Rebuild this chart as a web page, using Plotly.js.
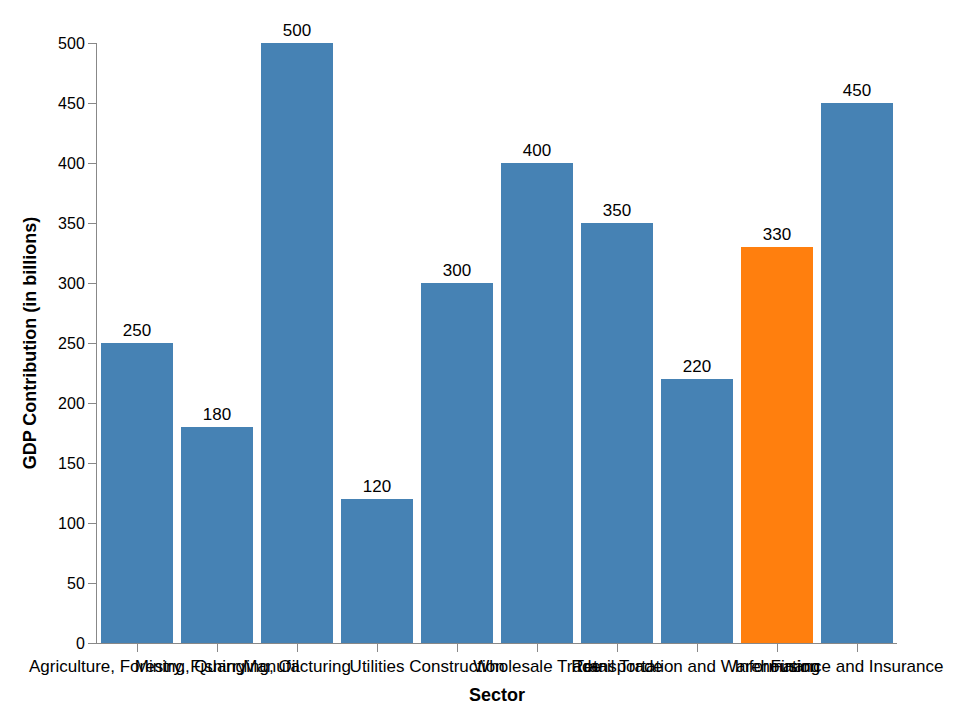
<!DOCTYPE html>
<html>
<head>
<meta charset="utf-8">
<script src="https://cdn.plot.ly/plotly-3.0.1.min.js"></script>
<style>body{margin:0;background:#fff}#chart{width:964px;height:716px}</style>
</head>
<body>
<div id="chart"></div>
<script>
const sectors = ["Agriculture, Forestry, Fishing", "Mining, Quarrying, Oil", "Manufacturing", "Utilities",
    "Construction", "Wholesale Trade", "Retail Trade", "Transportation and Warehousing",
    "Information", "Finance and Insurance"];
const gdp = [250, 180, 500, 120, 300, 400, 350, 220, 330, 450];
const highlighted = "Information";

const data = [{
    x: sectors,
    y: gdp,
    type: "bar",
    marker: { color: sectors.map(s => s === highlighted ? "#ff7f0e" : "#4682b4") },
    text: gdp.map(String),
    textposition: "outside",
    cliponaxis: false,
    textfont: { size: 17, color: "#000" },
    width: 0.9,
    hovertemplate: "%{x}: %{y}<extra></extra>"
}];

const layout = {
    width: 964, height: 716,
    margin: { l: 97, r: 67, t: 43, b: 73 },
    font: { family: "Liberation Sans, Arial, sans-serif", color: "#000" },
    showlegend: false,
    bargap: 0.1,
    plot_bgcolor: "#fff", paper_bgcolor: "#fff",
    xaxis: {
        title: { text: "<b>Sector</b>", font: { size: 18 }, standoff: 12 },
        tickangle: 0,
        tickfont: { size: 17 },
        ticks: "outside", ticklen: 8, tickcolor: "#888",
        showline: true, linecolor: "#888",
        showgrid: false
    },
    yaxis: {
        title: { text: "<b>GDP Contribution (in billions)</b>", font: { size: 18 }, standoff: 16 },
        range: [0, 500],
        dtick: 50,
        tickfont: { size: 16 },
        ticks: "outside", ticklen: 8, tickcolor: "#888",
        showline: true, linecolor: "#888",
        showgrid: false, zeroline: false
    }
};

Plotly.newPlot("chart", data, layout, { displayModeBar: false });
</script>
</body>
</html>
